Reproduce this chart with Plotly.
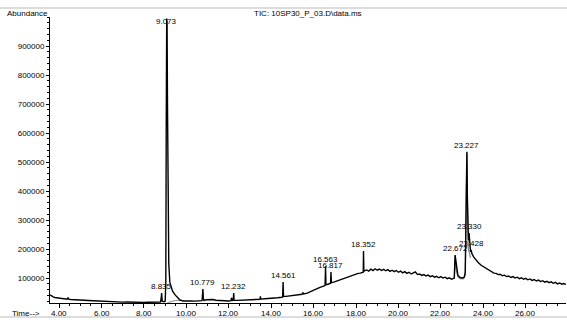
import plotly.graph_objects as go

# ---------------- data ----------------
time_min = [
    3.57, 3.60, 3.65, 3.72, 3.80, 3.90, 4.00, 4.10, 4.20, 4.30, 4.38, 4.42, 4.46, 4.55, 4.70, 4.85,
    5.00, 5.20, 5.40, 5.60, 5.75, 5.80, 6.00, 6.20, 6.40, 6.60, 6.80, 7.00, 7.20, 7.40, 7.60, 7.80,
    8.00, 8.20, 8.40, 8.60, 8.78, 8.81, 8.835, 8.86, 8.90, 8.95, 9.00, 9.03, 9.05, 9.073, 9.09, 9.11,
    9.13, 9.17, 9.22, 9.28, 9.35, 9.47, 9.60, 9.70, 9.85, 10.00, 10.20, 10.40, 10.60, 10.74, 10.76,
    10.779, 10.80, 10.83, 10.95, 11.10, 11.25, 11.40, 11.60, 11.80, 12.00, 12.10, 12.13, 12.16, 12.21,
    12.232, 12.25, 12.40, 12.60, 12.80, 13.00, 13.20, 13.40, 13.47, 13.49, 13.51, 13.70, 13.90, 14.10,
    14.30, 14.50, 14.54, 14.561, 14.58, 14.70, 14.90, 15.10, 15.30, 15.45, 15.50, 15.53, 15.70, 15.90,
    16.10, 16.30, 16.50, 16.54, 16.563, 16.58, 16.65, 16.75, 16.80, 16.817, 16.84, 16.95, 17.10, 17.20,
    17.30, 17.40, 17.50, 17.60, 17.70, 17.80, 17.90, 18.00, 18.10, 18.20, 18.30, 18.34, 18.352, 18.37,
    18.50, 18.60, 18.70, 18.80, 18.90, 19.00, 19.10, 19.20, 19.30, 19.40, 19.50, 19.60, 19.70, 19.80,
    19.90, 20.00, 20.10, 20.20, 20.30, 20.40, 20.50, 20.60, 20.70, 20.80, 20.90, 21.00, 21.10, 21.20,
    21.30, 21.40, 21.50, 21.60, 21.70, 21.80, 21.90, 22.00, 22.10, 22.20, 22.30, 22.40, 22.50, 22.55,
    22.63, 22.672, 22.70, 22.75, 22.80, 22.90, 23.00, 23.10, 23.15, 23.20, 23.227, 23.25, 23.28, 23.30,
    23.330, 23.36, 23.40, 23.428, 23.46, 23.55, 23.65, 23.77, 23.90, 24.00, 24.10, 24.20, 24.30, 24.40,
    24.50, 24.60, 24.70, 24.80, 24.90, 25.00, 25.10, 25.20, 25.30, 25.40, 25.50, 25.60, 25.70, 25.80,
    25.90, 26.00, 26.10, 26.20, 26.30, 26.40, 26.50, 26.60, 26.70, 26.80, 26.90, 27.00, 27.10, 27.20,
    27.30, 27.40, 27.50, 27.60, 27.70, 27.80, 27.90,
]
abundance = [
    42000, 40000, 37000, 35000, 33000, 31500, 30000, 29500, 28000, 27500, 27000, 33000, 27000, 26000, 25000, 24500,
    23500, 23000, 22500, 22000, 21500, 19000, 18500, 18000, 18500, 17500, 18000, 17000, 17500, 16500, 17000, 16500,
    16000, 16500, 16000, 16500, 17000, 30000, 48000, 20000, 18000, 18500, 20000, 80000, 600000, 995000, 980000, 700000,
    400000, 150000, 85000, 66000, 55000, 42000, 30000, 24000, 21000, 20000, 21000, 20500, 21500, 22000, 40000,
    62000, 30000, 23000, 25000, 26500, 26000, 23500, 22000, 21500, 21000, 22000, 32000, 22500, 23000,
    48000, 24000, 23000, 24000, 25000, 24500, 26000, 26500, 27000, 37000, 27500, 28500, 29000, 31000,
    32000, 34000, 35000, 86000, 37000, 37000, 38500, 40000, 42000, 44000, 50000, 45000, 48000, 55000,
    62000, 68000, 73000, 75000, 141000, 78000, 78000, 80000, 82000, 121000, 84000, 86000, 90000, 91000,
    95000, 97000, 101000, 102000, 107000, 108000, 112000, 113000, 116000, 117000, 120000, 120000, 193000, 124000,
    128000, 124000, 131000, 126000, 132000, 127000, 131000, 126000, 130000, 125000, 129000, 123000, 127000, 122000,
    126000, 120000, 124000, 118000, 122000, 116000, 120000, 114000, 118000, 121000, 112000, 114000, 109000, 112000,
    107000, 110000, 105000, 108000, 103000, 106000, 101000, 105000, 100000, 103000, 98000, 101000, 96000, 97000,
    100000, 179000, 160000, 125000, 110000, 102000, 100000, 102000, 120000, 400000, 535000, 380000, 240000, 230000,
    255000, 215000, 190000, 197000, 185000, 172000, 162000, 153000, 144000, 139000, 134000, 130000, 124000, 122000,
    117000, 116000, 112000, 113000, 108000, 110000, 105000, 107000, 102000, 105000, 100000, 103000, 98000, 101000,
    96000, 99000, 94000, 97000, 92000, 95000, 90000, 93000, 88000, 91000, 86000, 89000, 84000, 87000,
    82000, 85000, 80000, 83000, 79000, 81000, 78000,
]

# integration overlay (grey) around the main peak groups
overlay_time = [22.64, 22.672, 22.72, 22.80, 22.90, 23.05, 23.15, 23.20, 23.227, 23.26, 23.30, 23.40]
overlay_abund = [98000, 175000, 130000, 105000, 98000, 97000, 110000, 450000, 530000, 300000, 200000, 170000]
overlay2_time = [9.10, 9.30, 9.50, 9.80]
overlay2_abund = [15000, 19000, 23000, 24000]

peak_times = ["8.835", "9.073", "10.779", "12.232", "14.561", "16.563", "16.817",
              "18.352", "22.672", "23.227", "23.330", "23.428"]
peak_heights = [48000, 995000, 62000, 48000, 86000, 141000, 121000,
                193000, 179000, 535000, 255000, 197000]

y_tick_values = [100000, 200000, 300000, 400000, 500000, 600000, 700000, 800000, 900000]
x_tick_values = [4, 6, 8, 10, 12, 14, 16, 18, 20, 22, 24, 26]

title_text = "TIC: 10SP30_P_03.D\\data.ms"
y_label = "Abundance"
x_label = "Time-->"

# ---------------- figure ----------------
FONT = "Liberation Sans, Arial, sans-serif"
TXT = dict(size=8, color="black", family=FONT)
fig = go.Figure()
fig.add_trace(go.Scatter(x=overlay2_time, y=overlay2_abund, mode="lines",
                         line=dict(color="#8a8a8a", width=1), hoverinfo="skip"))
fig.add_trace(go.Scatter(x=overlay_time, y=overlay_abund, mode="lines",
                         line=dict(color="#8a8a8a", width=1.2), hoverinfo="skip"))
fig.add_trace(go.Scatter(x=time_min, y=abundance, mode="lines",
                         line=dict(color="black", width=1.4)))

Y_MIN, Y_MAX = 14000, 1000000
annotations = []
for label, h in zip(peak_times, peak_heights):
    annotations.append(dict(x=float(label), y=min(h, 962000), xref="x", yref="y",
                            text=label, showarrow=False, xanchor="center", yanchor="bottom",
                            font=TXT))

# x tick labels drawn as text just below the axis
for v in x_tick_values:
    annotations.append(dict(x=v, y=0, xref="x", yref="paper", text=f"{v:.2f}", showarrow=False,
                            xanchor="center", yanchor="middle", yshift=-10, font=TXT))

annotations += [
    dict(x=0.5, y=1, xref="paper", yref="paper", text=title_text, showarrow=False,
         xanchor="center", yanchor="middle", yshift=4, font=TXT),
    dict(x=0, y=1, xref="paper", yref="paper", text=y_label, showarrow=False,
         xanchor="right", yanchor="middle", yshift=4, xshift=0, font=TXT),
    dict(x=0, y=0, xref="paper", yref="paper", text=x_label, showarrow=False,
         xanchor="left", yanchor="middle", yshift=-10, xshift=-40, font=TXT),
]

fig.update_layout(
    width=567, height=320,
    margin=dict(l=50, r=1, t=17, b=17, pad=0),
    paper_bgcolor="white", plot_bgcolor="white",
    showlegend=False,
    font=dict(family=FONT, size=8, color="black"),
    annotations=annotations,
    shapes=[
        dict(type="line", xref="paper", yref="paper", x0=-0.12, x1=1.01, y0=1 + 9 / 286, y1=1 + 9 / 286,
             line=dict(color="#dcdcdc", width=2)),
        dict(type="line", xref="paper", yref="paper", x0=-0.12, x1=1.01, y0=-14 / 286, y1=-14 / 286,
             line=dict(color="#dcdcdc", width=2)),
    ],
)
fig.update_xaxes(range=[3.57, 27.9], showgrid=False, zeroline=False,
                 showline=True, linecolor="black", linewidth=1,
                 tickmode="array", tickvals=x_tick_values, showticklabels=False,
                 ticks="outside", ticklen=4, tickcolor="black", tickwidth=1,
                 minor=dict(dtick=0.5, tick0=0, ticks="outside", ticklen=2, tickcolor="black", showgrid=False))
fig.update_yaxes(range=[Y_MIN, Y_MAX], showgrid=False, zeroline=False,
                 showline=True, linecolor="black", linewidth=1,
                 tickmode="array", tickvals=y_tick_values, tickformat="d",
                 ticks="outside", ticklen=3, tickcolor="black", tickwidth=1,
                 tickfont=TXT,
                 minor=dict(dtick=20000, tick0=0, ticks="outside", ticklen=2, tickcolor="black", showgrid=False))

fig.write_html("out.html")
